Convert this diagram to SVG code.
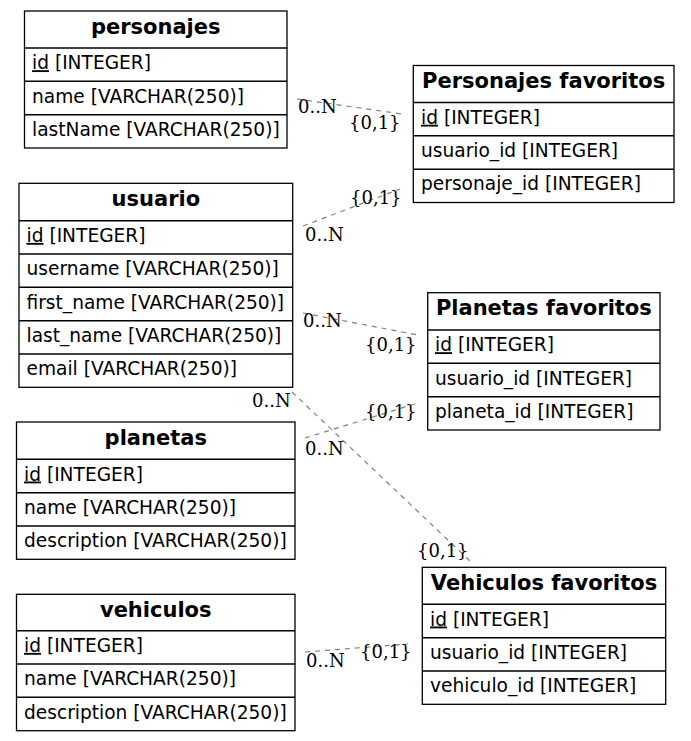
<svg xmlns="http://www.w3.org/2000/svg" width="691" height="741" viewBox="0 0 691 741">
<style>
.bg{fill:#ffffff}
.box{fill:#ffffff;stroke:#000000;stroke-width:1.3}
.sep{stroke:#000000;stroke-width:1.6}
.hd{font-family:"DejaVu Sans","Liberation Sans",sans-serif;font-weight:bold;font-size:21px;fill:#000;text-anchor:middle}
.rw{font-family:"DejaVu Sans","Liberation Sans",sans-serif;font-size:18.6px;fill:#000}
.pk{text-decoration:underline}
.edge{fill:none;stroke:#808080;stroke-width:1.2;stroke-dasharray:5,5}
.lb{font-family:"DejaVu Serif","Liberation Serif",serif;font-size:18px;fill:#000}
</style>
<rect class="bg" x="0" y="0" width="691" height="741"/>

<g id="connectors">
  <line class="edge" x1="297" y1="99" x2="402" y2="114"/>
  <line class="edge" x1="303" y1="226" x2="400" y2="189"/>
  <line class="edge" x1="303" y1="313" x2="418" y2="335"/>
  <line class="edge" x1="305" y1="438" x2="418" y2="403"/>
  <line class="edge" x1="292" y1="392" x2="470" y2="561"/>
  <line class="edge" x1="305" y1="652" x2="408" y2="644"/>
  <text class="lb" x="298" y="113">0..N</text>
  <text class="lb" x="349" y="129">{0,1}</text>
  <text class="lb" x="350" y="204">{0,1}</text>
  <text class="lb" x="305" y="241">0..N</text>
  <text class="lb" x="303" y="327">0..N</text>
  <text class="lb" x="365" y="351">{0,1}</text>
  <text class="lb" x="365" y="418">{0,1}</text>
  <text class="lb" x="305" y="455">0..N</text>
  <text class="lb" x="252" y="407">0..N</text>
  <text class="lb" x="417" y="557">{0,1}</text>
  <text class="lb" x="306" y="667">0..N</text>
  <text class="lb" x="360" y="658">{0,1}</text>
</g>

<g id="personajes">
  <rect class="box" x="24.5" y="11" width="262.5" height="137"/>
  <line class="sep" x1="24.5" y1="48" x2="287" y2="48"/>
  <line class="sep" x1="24.5" y1="81.3" x2="287" y2="81.3"/>
  <line class="sep" x1="24.5" y1="114.7" x2="287" y2="114.7"/>
  <text class="hd" x="155.75" y="33.5">personajes</text>
  <text class="rw" x="32" y="69.2"><tspan class="pk">id</tspan> [INTEGER]</text>
  <text class="rw" x="32" y="102.5">name [VARCHAR(250)]</text>
  <text class="rw" x="32" y="135.9">lastName [VARCHAR(250)]</text>
</g>

<g id="usuario">
  <rect class="box" x="19" y="183.3" width="273.7" height="204"/>
  <line class="sep" x1="19" y1="220.7" x2="292.7" y2="220.7"/>
  <line class="sep" x1="19" y1="254" x2="292.7" y2="254"/>
  <line class="sep" x1="19" y1="287.3" x2="292.7" y2="287.3"/>
  <line class="sep" x1="19" y1="320.7" x2="292.7" y2="320.7"/>
  <line class="sep" x1="19" y1="354" x2="292.7" y2="354"/>
  <text class="hd" x="155.85" y="205.8">usuario</text>
  <text class="rw" x="26.5" y="241.9"><tspan class="pk">id</tspan> [INTEGER]</text>
  <text class="rw" x="26.5" y="275.2">username [VARCHAR(250)]</text>
  <text class="rw" x="26.5" y="308.5">first_name [VARCHAR(250)]</text>
  <text class="rw" x="26.5" y="341.9">last_name [VARCHAR(250)]</text>
  <text class="rw" x="26.5" y="375.2">email [VARCHAR(250)]</text>
</g>

<g id="planetas">
  <rect class="box" x="16.5" y="422" width="278.5" height="137.3"/>
  <line class="sep" x1="16.5" y1="459.3" x2="295" y2="459.3"/>
  <line class="sep" x1="16.5" y1="492.7" x2="295" y2="492.7"/>
  <line class="sep" x1="16.5" y1="526" x2="295" y2="526"/>
  <text class="hd" x="155.75" y="444.5">planetas</text>
  <text class="rw" x="24" y="480.5"><tspan class="pk">id</tspan> [INTEGER]</text>
  <text class="rw" x="24" y="513.9">name [VARCHAR(250)]</text>
  <text class="rw" x="24" y="547.2">description [VARCHAR(250)]</text>
</g>

<g id="vehiculos">
  <rect class="box" x="16.5" y="594.3" width="278.5" height="136.4"/>
  <line class="sep" x1="16.5" y1="630.7" x2="295" y2="630.7"/>
  <line class="sep" x1="16.5" y1="664" x2="295" y2="664"/>
  <line class="sep" x1="16.5" y1="697.3" x2="295" y2="697.3"/>
  <text class="hd" x="155.75" y="616.8">vehiculos</text>
  <text class="rw" x="24" y="651.9"><tspan class="pk">id</tspan> [INTEGER]</text>
  <text class="rw" x="24" y="685.2">name [VARCHAR(250)]</text>
  <text class="rw" x="24" y="718.5">description [VARCHAR(250)]</text>
</g>

<g id="personajes_favoritos">
  <rect class="box" x="413.3" y="65.5" width="260.7" height="137"/>
  <line class="sep" x1="413.3" y1="102.5" x2="674" y2="102.5"/>
  <line class="sep" x1="413.3" y1="135.8" x2="674" y2="135.8"/>
  <line class="sep" x1="413.3" y1="169.2" x2="674" y2="169.2"/>
  <text class="hd" x="543.65" y="88">Personajes favoritos</text>
  <text class="rw" x="421" y="123.7"><tspan class="pk">id</tspan> [INTEGER]</text>
  <text class="rw" x="421" y="157">usuario_id [INTEGER]</text>
  <text class="rw" x="421" y="190.4">personaje_id [INTEGER]</text>
</g>

<g id="planetas_favoritos">
  <rect class="box" x="427.7" y="292.7" width="232.3" height="137.3"/>
  <line class="sep" x1="427.7" y1="330" x2="660" y2="330"/>
  <line class="sep" x1="427.7" y1="363.3" x2="660" y2="363.3"/>
  <line class="sep" x1="427.7" y1="396.7" x2="660" y2="396.7"/>
  <text class="hd" x="543.85" y="315.2">Planetas favoritos</text>
  <text class="rw" x="435" y="351.2"><tspan class="pk">id</tspan> [INTEGER]</text>
  <text class="rw" x="435" y="384.5">usuario_id [INTEGER]</text>
  <text class="rw" x="435" y="417.9">planeta_id [INTEGER]</text>
</g>

<g id="vehiculos_favoritos">
  <rect class="box" x="422.3" y="567.3" width="243.4" height="137"/>
  <line class="sep" x1="422.3" y1="604.3" x2="665.7" y2="604.3"/>
  <line class="sep" x1="422.3" y1="637.7" x2="665.7" y2="637.7"/>
  <line class="sep" x1="422.3" y1="671" x2="665.7" y2="671"/>
  <text class="hd" x="544" y="589.8">Vehiculos favoritos</text>
  <text class="rw" x="430" y="625.5"><tspan class="pk">id</tspan> [INTEGER]</text>
  <text class="rw" x="430" y="658.9">usuario_id [INTEGER]</text>
  <text class="rw" x="430" y="692.2">vehiculo_id [INTEGER]</text>
</g>
</svg>
